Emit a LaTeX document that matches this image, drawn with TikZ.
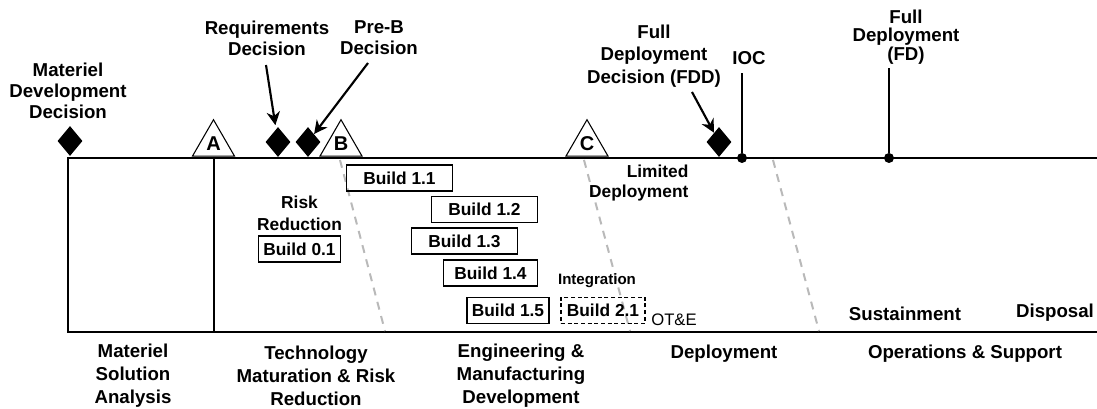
\documentclass[tikz,border=0pt]{standalone}
\usepackage{fontspec}
\setmainfont{Liberation Sans}
\usetikzlibrary{arrows.meta,positioning,shapes.geometric}

\begin{document}
\begin{tikzpicture}[
  x=0.75pt, y=-0.75pt,
  font=\bfseries\fontsize{14}{15.75}\selectfont,
  lbl/.style={align=center, inner sep=1pt},
  phase/.style={align=center, inner sep=1pt, font=\bfseries\fontsize{14}{17.25}\selectfont},
  buildblk/.style={draw, line width=0.9pt, minimum height=19.5pt, inner sep=0pt,
               font=\bfseries\fontsize{13}{15}\selectfont},
  milestone/.style={draw, fill=white, line width=0.8pt, regular polygon,
               regular polygon sides=3, minimum size=36.4pt, inner sep=0pt,
               font=\bfseries\fontsize{15}{15}\selectfont},
  decision/.style={diamond, fill=black, minimum width=18.75pt,
               minimum height=22.5pt, inner sep=0pt},
  event/.style={circle, fill=black, minimum size=7.5pt, inner sep=0pt},
  frame/.style={line width=1.8pt},
  phaseline/.style={gray!55, line width=1.5pt, dash pattern=on 6pt off 5pt},
  arrow/.style={-{Stealth[length=10pt, width=10pt]}, line width=1.6pt}
]
\useasboundingbox (0,0) rectangle (1097,409);

% phase frame and boundaries
\draw[frame] (1097,158) -- (68,158) -- (68,332) -- (1097,332);
\draw[line width=0.8pt] (214,158) -- (214,332);
\draw[phaseline] (340,160) -- (385,331);
\draw[phaseline] (584,160) -- (630,331);
\draw[phaseline] (773,160) -- (819,331);

% milestones and decisions
\node[milestone] (msA) at (213.5,144) {A};
\node[milestone] (msB) at (341,144) {B};
\node[milestone] (msC) at (587,144) {C};
\node[decision] (mdd)  at (70,141) {};
\node[decision] (reqd) at (278,142) {};
\node[decision] (preb) at (308,142) {};
\node[decision] (fdd)  at (719,142) {};
\node[event] (ioc) at (742,158) {};
\node[event] (fd)  at (889,158) {};

\node[lbl] (mddlbl)  at (68,91)  {Materiel\\Development\\Decision};
\node[lbl] (reqlbl)  at (267,38) {Requirements\\Decision};
\node[lbl] (preblbl) at (379,38) {Pre-B\\Decision};
\node[lbl, font=\bfseries\fontsize{14}{17}\selectfont] (fddlbl) at (654,56)
  {Full\\Deployment\\Decision (FDD)};
\node[lbl] (ioclbl) at (749,58) {IOC};
\node[lbl, font=\bfseries\fontsize{14}{14}\selectfont] (fdlbl) at (906,37)
  {Full\\Deployment\\(FD)};

\coordinate (reqtail)  at (266,65);
\coordinate (prebtail) at (368,63);
\coordinate (fddtail)  at (692,92);
\draw[arrow, shorten >=3pt] (reqtail) -- (reqd);
\draw[arrow] (prebtail) -- (preb);
\draw[arrow] (fddtail) -- (fdd);
\draw[line width=0.8pt, shorten >=5pt] (ioc) -- (ioc |- ioclbl.south);
\draw[line width=0.8pt, shorten >=1.5pt] (fd) -- (fd |- fdlbl.south);

% builds
\node[buildblk, minimum width=62pt] (b01) at (299.5,249) {Build 0.1};
\node[lbl, above=2.5pt of b01, font=\bfseries\fontsize{13}{16.5}\selectfont] (risk)
  {Risk\\Reduction};
\node[buildblk, minimum width=79pt]   (b11) at (399.5,178) {Build 1.1};
\node[buildblk, minimum width=80pt]   (b12) at (484.5,209.5) {Build 1.2};
\node[buildblk, minimum width=79pt]   (b13) at (464.5,241) {Build 1.3};
\node[buildblk, minimum width=71pt]   (b14) at (490.5,273) {Build 1.4};
\node[buildblk, minimum width=61.5pt] (b15) at (508,310.5) {Build 1.5};
\node[buildblk, dash pattern=on 3pt off 2pt, minimum width=63pt] (b21) at (603,310.5)
  {Build 2.1};
\node[lbl, font=\bfseries\fontsize{11.3}{13}\selectfont] (integ) at (597,281) {Integration};
\node[inner sep=1pt, font=\fontsize{12.5}{14}\selectfont] (ote) at (674,320) {OT\&E};
\node[lbl, anchor=east, align=right, font=\bfseries\fontsize{13}{15}\selectfont] (limdep)
  at (690,183) {Limited\\Deployment};
\node[lbl] (sust) at (905,314)  {Sustainment};
\node[lbl] (disp) at (1055,313) {Disposal};

% phases
\node[phase] (msa)  at (133,376) {Materiel\\Solution\\Analysis};
\node[phase] (tmrr) at (316,376) {Technology\\Maturation \& Risk\\Reduction};
\node[phase] (emd)  at (521,376) {Engineering \&\\Manufacturing\\Development};
\node[phase] (pd)   at (724,354) {Deployment};
\node[phase] (os)   at (965,354) {Operations \& Support};
\end{tikzpicture}
\end{document}
